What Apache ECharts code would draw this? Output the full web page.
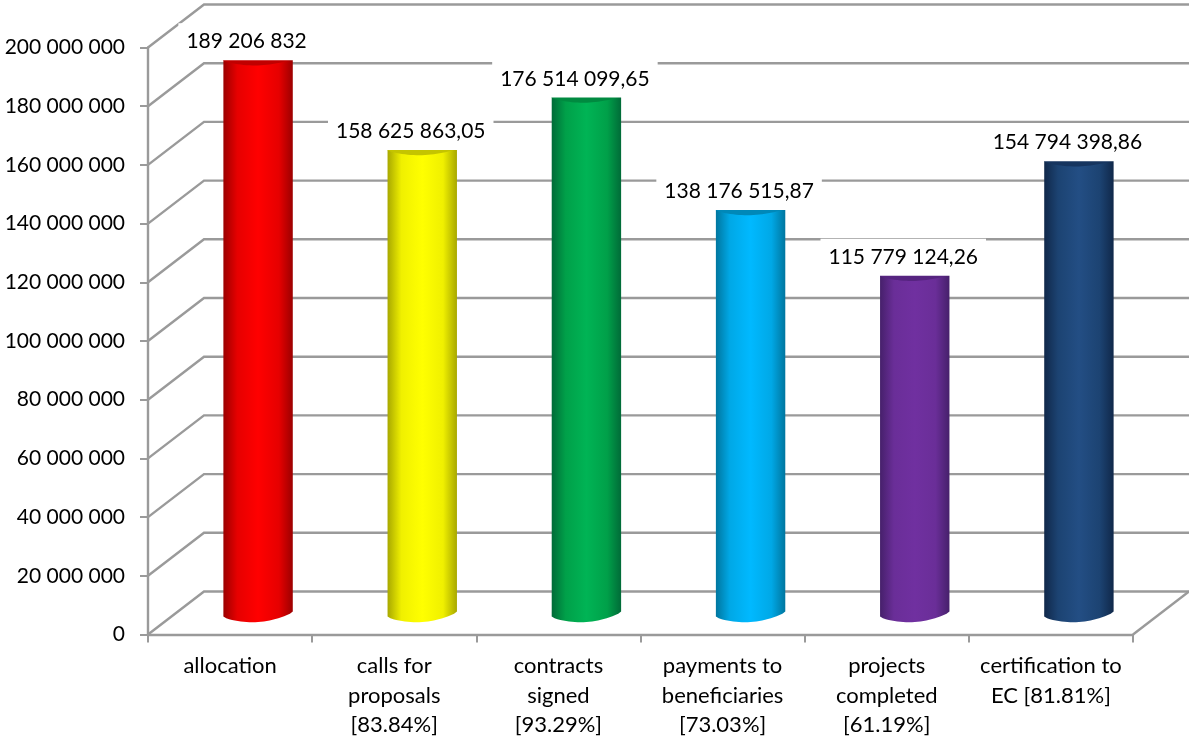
<!DOCTYPE html>
<html>
<head>
<meta charset="utf-8">
<title>Chart</title>
<style>
  html, body { margin: 0; padding: 0; background: #fff; }
  #main { width: 1189px; height: 737px; }
</style>
<script src="https://cdn.jsdelivr.net/npm/echarts@6/dist/echarts.min.js"></script>
</head>
<body>
<div id="main"></div>
<script>
var categories = ['allocation', 'calls for\nproposals\n[83.84%]', 'contracts\nsigned\n[93.29%]', 'payments to\nbeneficiaries\n[73.03%]', 'projects\ncompleted\n[61.19%]', 'certification to\nEC [81.81%]'];
var values = [189206832, 158625863.05, 176514099.65, 138176515.87, 115779124.26, 154794398.86];
var valueLabels = ['189 206 832', '158 625 863,05', '176 514 099,65', '138 176 515,87', '115 779 124,26', '154 794 398,86'];
var yTicks = [0, 20000000, 40000000, 60000000, 80000000, 100000000, 120000000, 140000000, 160000000, 180000000, 200000000];
var yTickLabels = ['0', '20 000 000', '40 000 000', '60 000 000', '80 000 000', '100 000 000', '120 000 000', '140 000 000', '160 000 000', '180 000 000', '200 000 000'];
var edgeColors = ['#9c0000', '#a8a800', '#006b38', '#00769f', '#46206b', '#10284a'];
var midColors = ['#e60000', '#f0f000', '#00a049', '#00a8e6', '#6a2e98', '#1c4372'];
var centerColors = ['#ff0000', '#ffff00', '#00b455', '#00b9ff', '#7030a0', '#234e84'];
var capColors = ['#c00000', '#c4c400', '#008a40', '#0088b8', '#562480', '#16355f'];

var gray = '#9a9a9a';
var font = 'Lato, sans-serif';
// depth of the fake 3D floor, in pixels
var depthX = 56;
var depthY = -43;
var barHalf = 34.7;

// tilted arc of the cylinder, walked from the right edge to the left
function arc(l, r, y, tilt, drop, h) {
  var pts = [];
  for (var i = 24; i >= 0; i--) {
    var u = i / 24;
    pts.push([l + (r - l) * u, y + drop - tilt * u + h * Math.pow(Math.sin(Math.PI * u), 0.7)]);
  }
  return pts;
}

function renderWall(params, api) {
  var v = api.value(1);
  var rect = params.coordSys;
  var y = api.coord([0, v])[1];
  var children = [{
    type: 'polyline',
    shape: { points: [[rect.x, y], [rect.x + depthX, y + depthY], [rect.x + rect.width + depthX, y + depthY]] },
    style: { stroke: gray, lineWidth: 2.4, fill: null }
  }];
  if (v === 0) {
    children.push({
      type: 'line',
      shape: { x1: rect.x + rect.width, y1: y, x2: rect.x + rect.width + depthX, y2: y + depthY },
      style: { stroke: gray, lineWidth: 2.4 }
    });
  }
  return { type: 'group', children: children };
}

function renderBar(params, api) {
  var i = params.dataIndex;
  var top = api.coord([i, api.value(1)]);
  var base = api.coord([i, 0]);
  var cx = top[0] + depthX / 2;
  var ty = top[1] + depthY / 2 + 0.7;
  var by = base[1] + depthY / 2 + 1.5;
  var l = cx - barHalf, r = cx + barHalf;
  var body = [[l, ty], [r, ty]].concat(arc(l, r, by, 5, 2, 8));
  var cap = [[l, ty], [r, ty]].concat(arc(l, r, ty, 2, 2, 6));
  return {
    type: 'group',
    children: [
      {
        type: 'polygon',
        shape: { points: body },
        style: {
          fill: {
            type: 'linear', x: 0, y: 0, x2: 1, y2: 0,
            colorStops: [
              { offset: 0, color: edgeColors[i] },
              { offset: 0.2, color: midColors[i] },
              { offset: 0.5, color: centerColors[i] },
              { offset: 0.8, color: midColors[i] },
              { offset: 1, color: edgeColors[i] }
            ]
          }
        }
      },
      {
        type: 'polygon',
        shape: { points: cap },
        style: { fill: capColors[i] }
      },
      {
        type: 'text',
        style: {
          text: valueLabels[i],
          x: cx - 11.5,
          y: ty - 16.7,
          align: 'center',
          verticalAlign: 'middle',
          font: '21px ' + font,
          fill: '#000',
          backgroundColor: '#fff',
          padding: [6, 8],
          lineHeight: 25
        }
      }
    ]
  };
}

var chart = echarts.init(document.getElementById('main'), null, { renderer: 'canvas' });
chart.setOption({
  animation: false,
  backgroundColor: '#fff',
  grid: { left: 148, top: 47.5, width: 985, height: 587, outerBoundsMode: 'none' },
  xAxis: {
    type: 'category',
    data: categories,
    axisLine: { lineStyle: { color: gray, width: 2.4 } },
    axisTick: { show: true, length: 8, lineStyle: { color: gray, width: 2 } },
    axisLabel: { interval: 0, margin: 17, color: '#000', fontFamily: font, fontSize: 22, lineHeight: 29.5 }
  },
  yAxis: {
    type: 'value',
    min: 0,
    max: 200000000,
    interval: 20000000,
    axisLine: { show: true, lineStyle: { color: gray, width: 2.4 } },
    axisTick: { show: true, length: 8, lineStyle: { color: gray, width: 2 } },
    splitLine: { show: false },
    axisLabel: {
      margin: 23,
      padding: [2, 0, 0, 0],
      color: '#000',
      fontFamily: font,
      fontSize: 21,
      formatter: function(v) { return yTickLabels[yTicks.indexOf(v)]; }
    }
  },
  series: [
    {
      type: 'custom',
      name: 'wall',
      renderItem: renderWall,
      clip: false,
      silent: true,
      z: 1,
      data: yTicks.map(function(v) { return [0, v]; })
    },
    {
      type: 'custom',
      name: 'bars',
      renderItem: renderBar,
      clip: false,
      z: 3,
      data: values.map(function(v, i) { return [i, v]; })
    }
  ]
});
window.addEventListener('resize', function() { chart.resize(); });
</script>
</body>
</html>
